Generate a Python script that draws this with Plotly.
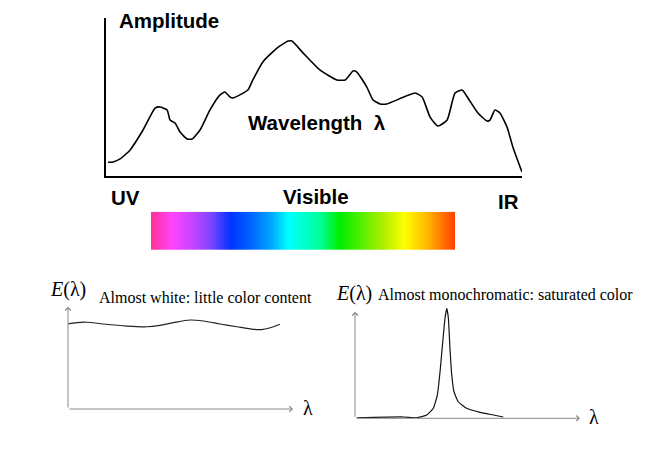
import numpy as np
import plotly.graph_objects as go

# ---------------- data ----------------
# main spectrum (arbitrary wavelength units 0-100, amplitude 0-100)
spec_x = [0.5, 1.7, 3.4, 5.8, 8.9, 11.8, 13.0, 14.7, 15.4, 16.6, 17.8, 19.5, 20.7, 22.6, 25.0,
          27.4, 28.6, 29.8, 30.5, 34.1, 35.3, 37.7, 41.1, 43.8, 44.7, 47.4, 51.4, 55.5, 57.5,
          59.4, 60.3, 62.7, 64.2, 65.9, 67.5, 74.3, 76.0, 77.9, 79.8, 82.0, 83.9, 85.6, 87.0,
          89.4, 91.6, 92.3, 93.5, 94.7, 96.4, 97.8, 100.0]
spec_y = [8.7, 8.9, 10.8, 16.5, 29.1, 43.0, 43.7, 41.8, 35.4, 33.5, 27.8, 23.4, 23.4, 29.1, 41.8,
          51.3, 53.2, 50.0, 49.4, 54.4, 60.8, 72.2, 81.0, 85.4, 85.4, 77.8, 67.1, 60.8, 60.8,
          66.5, 65.8, 56.3, 48.1, 45.6, 45.6, 52.5, 50.0, 37.3, 31.6, 35.4, 52.5, 54.4, 49.4,
          39.9, 34.8, 35.4, 41.8, 39.9, 31.0, 18.4, 2.5]

# almost white spectrum
white_x = [0, 3.9, 8.3, 15.7, 26.1, 35.0, 40.9, 46.8, 54.2, 60.1, 67.6, 75.0, 82.4, 86.8, 91.3, 94.2]
white_y = [83.1, 84.4, 84.8, 83.1, 81.1, 80.4, 81.8, 84.4, 87.0, 86.0, 83.1, 80.4, 77.9, 77.9, 80.4, 82.8]

# almost monochromatic spectrum
mono_x = [0.8, 21.5, 27.4, 31.9, 34.8, 36.6, 37.8, 39.0, 40.0, 40.8, 41.5, 42.2, 43.0, 44.0,
          45.9, 49.6, 55.6, 61.5, 65.9]
mono_y = [0.5, 1.2, 0.5, 3.0, 9.1, 21.1, 42.2, 69.4, 90.7, 99.7, 90.7, 63.5, 39.3, 24.1,
          15.0, 9.1, 5.4, 3.0, 1.2]

# visible-spectrum colour bar (position along bar 0..1)
rainbow_pos = list(np.linspace(0, 1, 200))
rainbow_stops = [0.0, 0.068, 0.145, 0.20, 0.26, 0.331, 0.397, 0.452, 0.556, 0.622, 0.763, 0.836, 0.907, 0.96, 1.0]
rainbow_cols = ["#ff3399", "#ff44ff", "#bb44ff", "#7744ff", "#0033ff", "#0066ff", "#00aaff", "#00ffff",
                "#00ff99", "#00ee00", "#aaee00", "#ffff00", "#ffbb00", "#ff7700", "#ff4400"]

# labels
main_labels = ["Amplitude", "Wavelength&nbsp;&nbsp;λ", "UV", "Visible", "IR"]
white_title = "Almost white: little color content"
mono_title = "Almost monochromatic: saturated color"

# ---------------- figure ----------------
W, H = 666, 470
OFF = 8  # page body margin
def px(x):
    return (x - OFF) / W
def py(y):
    return 1 - (y - OFF) / H

fig = go.Figure()
fig.add_trace(go.Scatter(x=spec_x, y=spec_y, xaxis="x", yaxis="y", mode="lines",
                         line=dict(color="black", width=1.6, shape="spline", smoothing=0.5),
                         hoverinfo="skip", showlegend=False))
fig.add_trace(go.Scatter(x=white_x, y=white_y, xaxis="x2", yaxis="y2", mode="lines",
                         line=dict(color="#222", width=1.2, shape="spline", smoothing=0.8),
                         hoverinfo="skip", showlegend=False))
fig.add_trace(go.Scatter(x=mono_x, y=mono_y, xaxis="x3", yaxis="y3", mode="lines",
                         line=dict(color="#111", width=1.2, shape="spline", smoothing=0.4),
                         hoverinfo="skip", showlegend=False))
fig.add_trace(go.Heatmap(z=[rainbow_pos], x=rainbow_pos, y=[0], xaxis="x4", yaxis="y4",
                         colorscale=[[s, c] for s, c in zip(rainbow_stops, rainbow_cols)],
                         zmin=0, zmax=1, showscale=False, hoverinfo="skip"))

hidden = dict(showgrid=False, zeroline=False, showticklabels=False, ticks="", showline=False)
fig.update_layout(
    width=W, height=H, margin=dict(l=0, r=0, t=0, b=0),
    paper_bgcolor="white", plot_bgcolor="rgba(0,0,0,0)",
    xaxis=dict(domain=[px(106), px(522)], range=[0, 100], showgrid=False, zeroline=False,
               showticklabels=False, ticks="", showline=True, linecolor="black", linewidth=2),
    yaxis=dict(domain=[py(176), py(18)], range=[0, 100], showgrid=False, zeroline=False,
               showticklabels=False, ticks="", showline=True, linecolor="black", linewidth=2),
    xaxis2=dict(domain=[px(68), px(293)], range=[0, 100], anchor="y2", **hidden),
    yaxis2=dict(domain=[py(409), py(306.7)], range=[0, 100], anchor="x2", **hidden),
    xaxis3=dict(domain=[px(355), px(580)], range=[0, 100], anchor="y3", **hidden),
    yaxis3=dict(domain=[py(418.3), py(308)], range=[0, 100], anchor="x3", **hidden),
    xaxis4=dict(domain=[px(151), px(455)], anchor="y4", **hidden),
    yaxis4=dict(domain=[py(250), py(211.7)], anchor="x4", **hidden),
)

sans = dict(family="Liberation Sans, Arial, sans-serif", size=20.5, color="black", weight="bold")
serif = dict(family="Liberation Serif, Times New Roman, serif", size=16, color="black")
serif_big = dict(family="Liberation Serif, Times New Roman, serif", size=20, color="black")

ann = []
def text(t, x, y, font, xanchor="left", yanchor="middle"):
    ann.append(dict(text=t, x=px(x), y=py(y), xref="paper", yref="paper", showarrow=False,
                    xanchor=xanchor, yanchor=yanchor, font=font))

text(main_labels[0], 117, 20, sans)
text(main_labels[1], 246, 123, sans)
text(main_labels[2], 109, 197, sans)
text(main_labels[3], 315.5, 196, sans, xanchor="center")
text(main_labels[4], 496, 201, sans)

text("<i>E</i>(λ)", 48, 289, serif_big)
text(white_title, 97, 297, serif)
text("λ", 301, 408, serif_big)
text("<i>E</i>(λ)", 334, 293, serif_big)
text(mono_title, 375.5, 294, serif)
text("λ", 587, 417, serif_big)

def arrow(ax_id, x, y):
    xr, yr = "x%s domain" % ax_id, "y%s domain" % ax_id
    ann.append(dict(text="", xref=xr, yref=yr, axref=xr, ayref=yr, x=x, y=y, ax=0, ay=0,
                    showarrow=True, arrowhead=4, arrowsize=1.1, arrowwidth=1, arrowcolor="#888"))

arrow(2, 0, 1)
arrow(2, 1, 0)
arrow(3, 0, 0.966)
arrow(3, 1, 0)

fig.update_layout(annotations=ann)
fig.write_html("out.html")
